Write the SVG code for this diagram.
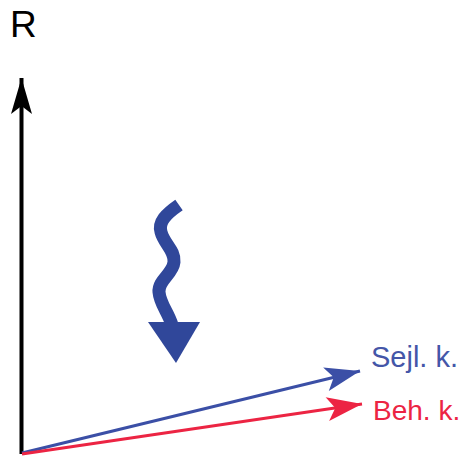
<svg xmlns="http://www.w3.org/2000/svg" width="466" height="457" viewBox="0 0 466 457">
<defs>
<style>
.lbl{font-family:"Liberation Sans",Arial,sans-serif;}
</style>
<marker id="ahK" markerUnits="userSpaceOnUse" orient="auto" markerWidth="40" markerHeight="30" viewBox="-38 -14 40 28" refX="0" refY="0"><path d="M0,0 L-36,-10.5 L-28,0 L-36,10.5 Z" fill="#000"/></marker>
<marker id="ahB" markerUnits="userSpaceOnUse" orient="auto" markerWidth="40" markerHeight="30" viewBox="-38 -14 40 28" refX="0" refY="0"><path d="M0,0 L-35,-12 L-27,0 L-35,12 Z" fill="#3b4fa6"/></marker>
<marker id="ahR" markerUnits="userSpaceOnUse" orient="auto" markerWidth="40" markerHeight="30" viewBox="-38 -14 40 28" refX="0" refY="0"><path d="M0,0 L-35,-12 L-27,0 L-35,12 Z" fill="#ec2443"/></marker>
</defs>
<rect width="466" height="457" fill="#fff"/>
<g id="connectors">
<line x1="21.5" y1="454" x2="21.5" y2="78" stroke="#000" stroke-width="4" marker-end="url(#ahK)"/>
<line x1="22" y1="453" x2="360" y2="371" stroke="#3b4fa6" stroke-width="3" marker-end="url(#ahB)"/>
<line x1="22" y1="454" x2="362" y2="404" stroke="#ec2443" stroke-width="3" marker-end="url(#ahR)"/>
</g>
<g id="axis-label"><text class="lbl" x="10" y="37" font-size="37" fill="#000">R</text></g>
<g id="wave">
<path d="M179,205 C166,214 158,222 161,232 C164,244 175,250 174,262 C173,274 158,280 159,292 C160,304 168,312 172,325" fill="none" stroke="#30479a" stroke-width="13"/>
<polygon points="148,322 200,322 176,363" fill="#30479a"/>
</g>
<g id="sejl"><text class="lbl" x="371" y="367" font-size="29" fill="#4456a8">Sejl. k.</text></g>
<g id="beh"><text class="lbl" x="373" y="420" font-size="28" fill="#ec2443">Beh. k.</text></g>
</svg>
